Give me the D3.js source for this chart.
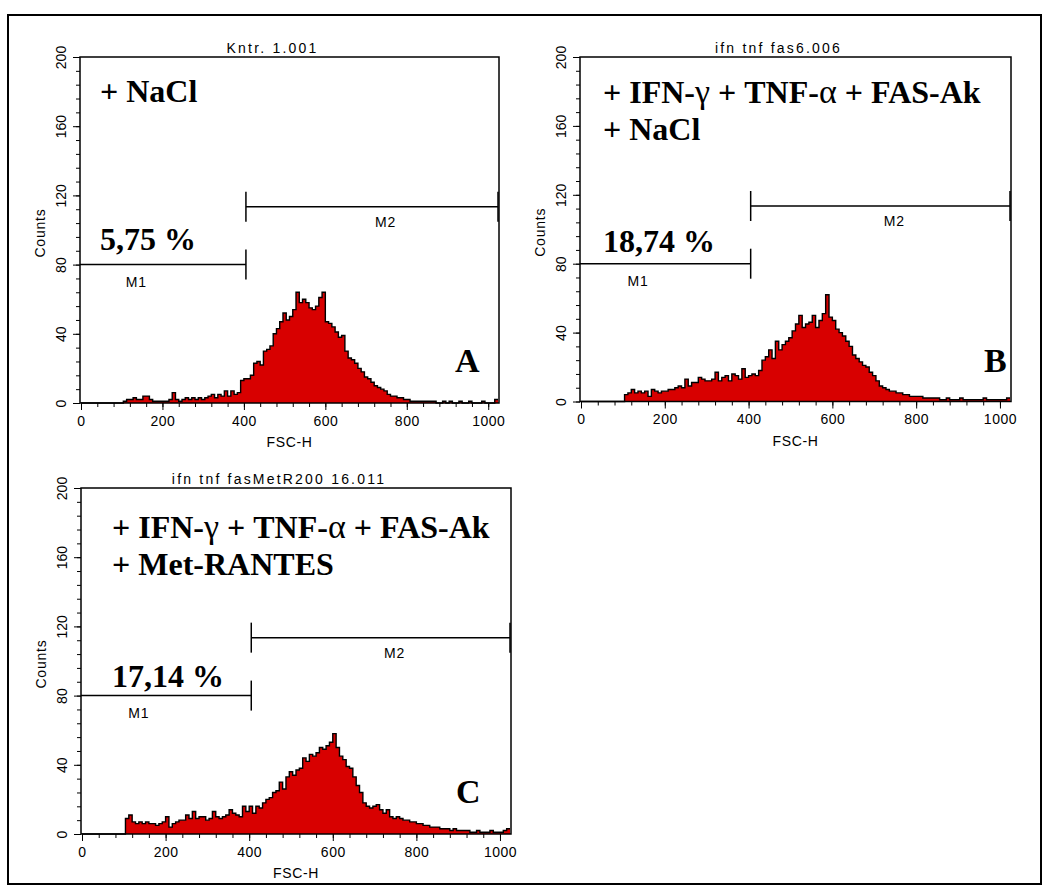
<!DOCTYPE html>
<html>
<head>
<meta charset="utf-8">
<script src="https://cdn.jsdelivr.net/npm/d3@7"></script>
<style>
  body { margin: 0; background: #fff; }
  svg text { font-family: "Liberation Sans", Arial, sans-serif; }
</style>
</head>
<body>
<svg id="chart" width="1050" height="896"></svg>
<script>
// histogram counts, one value per 8 channels (0..1023)
const binWidth = 8
const countsA = [
  0,0,0,0,0,0,0,0,0,0,0,0,0,1,2,2,
  3,2,2,4,4,2,1,1,1,1,1,2,6,2,1,2,
  3,2,3,2,3,2,3,4,5,3,5,4,7,4,7,5,
  6,13,14,14,16,23,24,22,30,31,33,40,43,47,52,48,
  50,54,64,58,60,58,55,54,56,61,64,47,46,44,41,38,
  39,30,26,25,23,20,18,15,14,12,10,9,8,7,5,4,
  4,3,3,2,2,1,1,1,1,1,1,1,1,0,0,1,
  0,1,0,0,1,0,0,1,0,0,0,1,0,0,0,2
]
const countsB = [
  0,0,0,0,0,0,0,0,0,0,0,0,0,4,5,7,
  5,6,5,6,3,7,6,5,6,6,7,7,8,9,8,13,
  9,11,11,14,13,12,12,13,17,12,14,15,12,16,15,13,
  19,14,15,16,15,18,24,26,30,25,35,30,33,35,37,41,
  45,50,43,45,46,50,43,47,51,62,49,47,42,40,38,35,
  32,27,25,23,21,20,17,15,12,9,8,7,6,6,5,5,
  4,4,3,3,3,3,2,2,2,2,2,1,1,2,1,1,
  1,2,1,1,1,1,1,1,2,1,1,1,1,1,1,2
]
const countsC = [
  0,0,0,0,0,0,0,0,0,0,0,0,0,9,11,7,
  6,7,6,7,6,6,5,6,7,10,4,6,7,8,8,11,
  9,13,9,10,10,8,9,13,10,9,10,11,14,12,11,10,
  16,13,16,12,16,15,18,20,21,24,25,30,26,33,36,34,
  37,38,44,42,46,45,47,50,49,51,53,58,50,45,43,39,
  38,33,28,24,18,16,15,16,17,14,12,14,10,9,10,9,
  8,8,7,7,6,6,5,5,4,4,4,3,3,3,2,3,
  2,2,2,2,1,1,2,1,1,1,2,1,1,1,2,3
]

const titles = ["Kntr. 1.001", "ifn tnf fas6.006", "ifn tnf fasMetR200 16.011"]
const conditions = [
  ["+ NaCl"],
  ["+ IFN-γ + TNF-α + FAS-Ak", "+ NaCl"],
  ["+ IFN-γ + TNF-α + FAS-Ak", "+ Met-RANTES"]
]
const percents = ["5,75 %", "18,74 %", "17,14 %"]
const letters = ["A", "B", "C"]

const xMajorTicks = [0, 200, 400, 600, 800, 1000]
const xMinorTicks = d3.range(0, 1001, 40)
const yMajorTicks = [0, 40, 80, 120, 160, 200]
const yMinorTicks = d3.range(0, 201, 8)

// gate markers: [from, to] channel and count level
const m1Range = [0, 405], m1Level = 80
const m2Range = [405, 1024], m2Level = 113.5

const allCounts = [countsA, countsB, countsC]

// panel boxes and text offsets (pixels)
const layout = [
  {left: 80, top: 57, right: 499, bottom: 403, tx: 20, ty: [45, 82], py: 193, lx: 375, ly: 315},
  {left: 580, top: 57, right: 1011, bottom: 401.5, tx: 23, ty: [46, 83], py: 195, lx: 404, ly: 315},
  {left: 81, top: 488, right: 511, bottom: 834, tx: 31, ty: [50, 87], py: 199, lx: 375, ly: 315}
]

const svg = d3.select("#chart")

svg.append("rect")
  .attr("x", 8).attr("y", 15)
  .attr("width", 1033).attr("height", 869)
  .attr("fill", "none").attr("stroke", "#000").attr("stroke-width", 2)

layout.forEach(function(L, k) { drawPanel(L, k) })

function drawPanel(L, k) {
  const g = svg.append("g")
  const x = d3.scaleLinear().domain([0, 1024]).range([L.left + 1, L.right - 1])
  const y = d3.scaleLinear().domain([0, 200]).range([L.bottom, L.top])

  const counts = allCounts[k]
  const bins = counts.map(function(c, i) { return {ch: i * binWidth, c: c} })
  bins.push({ch: 1024, c: counts[counts.length - 1]})

  const area = d3.area().curve(d3.curveStepAfter)
    .x(function(d) { return x(d.ch) })
    .y0(y(0))
    .y1(function(d) { return y(d.c) })
  const line = d3.line().curve(d3.curveStepAfter)
    .x(function(d) { return x(d.ch) })
    .y(function(d) { return y(d.c) })

  g.append("path").datum(bins).attr("d", area).attr("fill", "#d80000")
  g.append("path").datum(bins).attr("d", line)
    .attr("fill", "none").attr("stroke", "#000").attr("stroke-width", 1.4)

  g.append("rect")
    .attr("x", L.left).attr("y", L.top)
    .attr("width", L.right - L.left).attr("height", L.bottom - L.top)
    .attr("fill", "none").attr("stroke", "#000").attr("stroke-width", 1.5)

  // x axis
  g.append("g").attr("transform", "translate(0," + L.bottom + ")")
    .call(d3.axisBottom(x).tickValues(xMinorTicks).tickSize(4).tickFormat(""))
    .call(function(s) { s.select(".domain").remove() })
  g.append("g").attr("transform", "translate(0," + L.bottom + ")")
    .call(d3.axisBottom(x).tickValues(xMajorTicks).tickSize(7).tickPadding(6).tickFormat(d3.format("d")))
    .attr("font-size", 14)
    .attr("font-family", "'Liberation Sans', Arial, sans-serif")
    .call(function(s) { s.select(".domain").remove() })
    .selectAll("text").style("letter-spacing", "0.5px")

  // y axis
  g.append("g").attr("transform", "translate(" + L.left + ",0)")
    .call(d3.axisLeft(y).tickValues(yMinorTicks).tickSize(4).tickFormat(""))
    .call(function(s) { s.select(".domain").remove() })
  g.append("g").attr("transform", "translate(" + L.left + ",0)")
    .call(d3.axisLeft(y).tickValues(yMajorTicks).tickSize(7).tickFormat(d3.format("d")))
    .attr("font-size", 14)
    .attr("font-family", "'Liberation Sans', Arial, sans-serif")
    .call(function(s) { s.select(".domain").remove() })
    .selectAll("text")
    .attr("transform", "rotate(-90)")
    .attr("x", 0).attr("y", -19).attr("dy", "0.35em")
    .attr("text-anchor", "middle")

  g.append("text")
    .attr("transform", "translate(" + (L.left - 40) + "," + ((L.top + L.bottom) / 2 + 3) + ") rotate(-90)")
    .attr("text-anchor", "middle").attr("dy", "0.35em")
    .style("font-size", "14px").style("letter-spacing", "0.8px")
    .text("Counts")

  g.append("text")
    .attr("x", (L.left + L.right) / 2).attr("y", L.bottom + 44)
    .attr("text-anchor", "middle")
    .style("font-size", "14px").style("letter-spacing", "0.6px")
    .text("FSC-H")

  g.append("text")
    .attr("x", (L.left + L.right) / 2 - 17).attr("y", L.top - 4)
    .attr("text-anchor", "middle")
    .style("font-size", "14px").style("letter-spacing", "2.2px")
    .text(titles[k])

  // gate markers
  const mk = g.append("g").attr("stroke", "#000").attr("stroke-width", 1.5)
  mk.append("line")
    .attr("x1", L.left).attr("x2", x(m1Range[1]))
    .attr("y1", y(m1Level)).attr("y2", y(m1Level))
  mk.append("line")
    .attr("x1", x(m1Range[1])).attr("x2", x(m1Range[1]))
    .attr("y1", y(m1Level) - 15).attr("y2", y(m1Level) + 15)
  mk.append("line")
    .attr("x1", x(m2Range[0])).attr("x2", x(m2Range[1]))
    .attr("y1", y(m2Level)).attr("y2", y(m2Level))
  m2Range.forEach(function(v) {
    mk.append("line")
      .attr("x1", x(v)).attr("x2", x(v))
      .attr("y1", y(m2Level) - 15).attr("y2", y(m2Level) + 15)
  })

  g.append("text")
    .attr("x", x(136)).attr("y", y(m1Level) + 17).attr("dy", "0.35em")
    .attr("text-anchor", "middle")
    .style("font-size", "14px").style("letter-spacing", "0.8px")
    .text("M1")
  g.append("text")
    .attr("x", x(748)).attr("y", y(m2Level) + 15).attr("dy", "0.35em")
    .attr("text-anchor", "middle")
    .style("font-size", "14px").style("letter-spacing", "0.8px")
    .text("M2")

  // condition labels, bold serif, greek letters in regular weight
  conditions[k].forEach(function(str, j) {
    const t = g.append("text")
      .attr("x", L.left + L.tx).attr("y", L.top + L.ty[j])
      .attr("xml:space", "preserve")
      .style("font-family", "'Liberation Serif', 'Times New Roman', serif")
      .style("font-size", "32px").style("font-weight", "bold")
    str.split(/([α-ω])/).forEach(function(part) {
      if (!part) return
      const sp = t.append("tspan").text(part)
      if (/[α-ω]/.test(part)) sp.style("font-weight", "normal").style("font-size", "34px")
    })
  })

  g.append("text")
    .attr("x", L.left + L.tx).attr("y", L.top + L.py)
    .style("font-family", "'Liberation Serif', 'Times New Roman', serif")
    .style("font-size", "32px").style("font-weight", "bold")
    .text(percents[k])

  g.append("text")
    .attr("x", L.left + L.lx).attr("y", L.top + L.ly)
    .style("font-family", "'Liberation Serif', 'Times New Roman', serif")
    .style("font-size", "34px").style("font-weight", "bold")
    .text(letters[k])
}
</script>
</body>
</html>
